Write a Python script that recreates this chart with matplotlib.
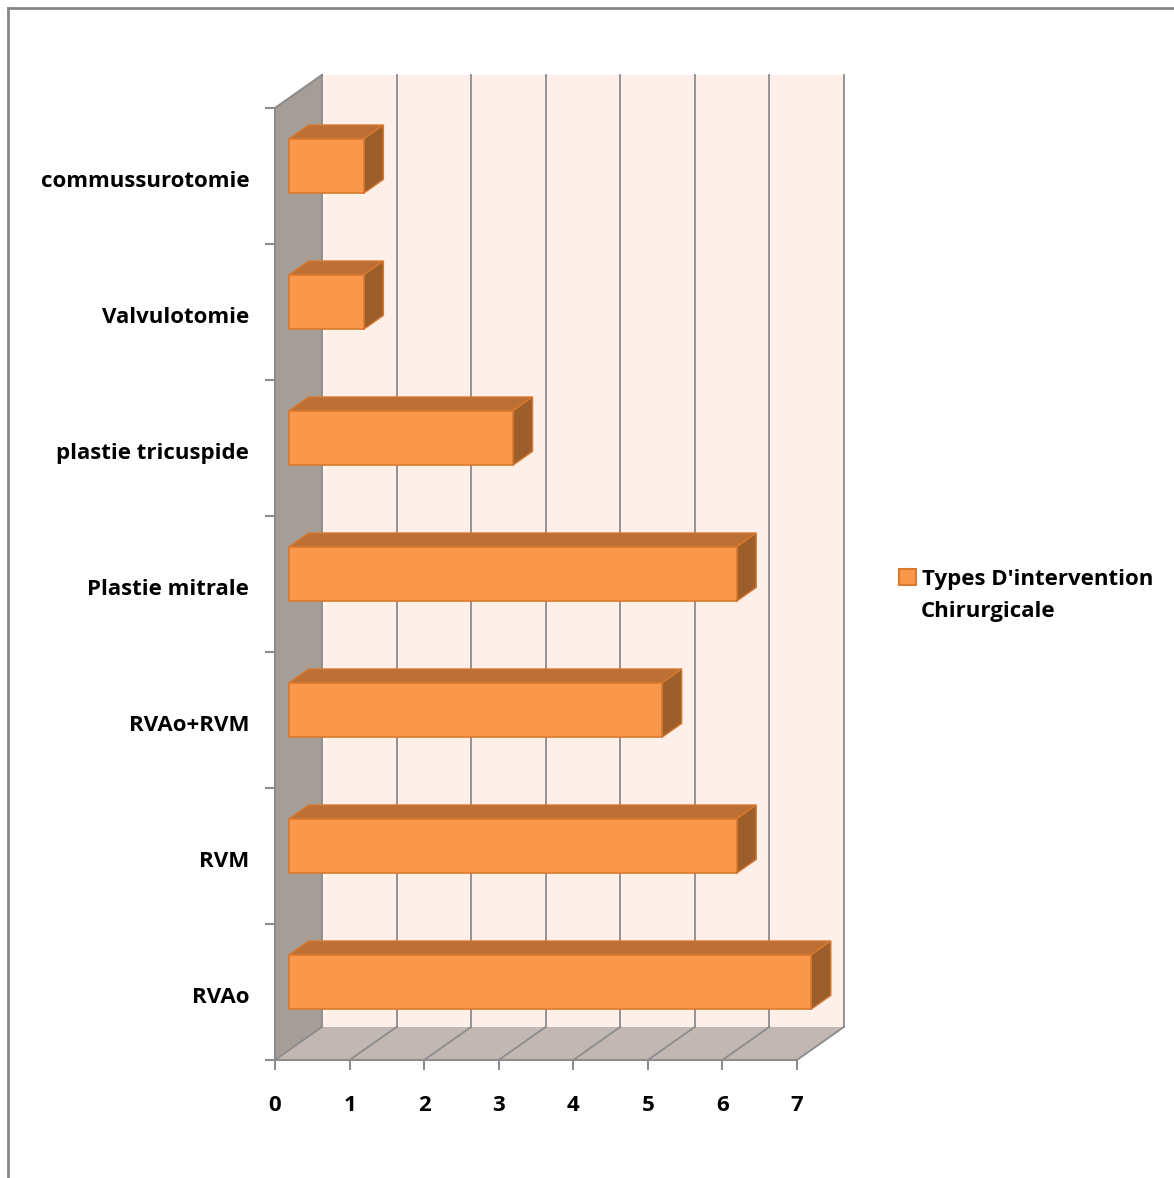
import matplotlib.pyplot as plt
from matplotlib.patches import Polygon, Patch
from matplotlib.lines import Line2D

# Categories listed bottom to top, as they are stacked on the y axis
categories = [
    "RVAo",
    "RVM",
    "RVAo+RVM",
    "Plastie mitrale",
    "plastie tricuspide",
    "Valvulotomie",
    "commussurotomie",
]
counts = [7, 6, 5, 6, 3, 1, 1]
x_ticks = [0, 1, 2, 3, 4, 5, 6, 7]
series_name = ["Types D'intervention", "Chirurgicale"]

# Colours of the pseudo 3D chart
FRONT = "#F9974A"
TOP = "#BD7035"
SIDE = "#9C5E2B"
EDGE = "#D9792E"
BACK_WALL = "#FEEFE8"
SIDE_WALL = "#A59D98"
FLOOR = "#C2B7B3"
GRID = "#8C8C8C"

# Oblique depth offset (data units) for the back of the plot box
OX, OY = 0.63, 0.243
# Bar front/back depth (fraction of box depth) and half height
D0, D1 = 0.30, 0.72
HALF = 0.2

FONT_SIZE = 16


def proj(v, c, d):
    """Project value, category position and depth onto the 2D axes."""
    return (v + d * OX, c + d * OY)


def draw_box(ax, n_cat, x_max):
    # floor
    ax.add_patch(Polygon([proj(0, 0, 0), proj(x_max, 0, 0), proj(x_max, 0, 1), proj(0, 0, 1)],
                         closed=True, facecolor=FLOOR, edgecolor="none", zorder=1))
    # left wall
    ax.add_patch(Polygon([proj(0, 0, 0), proj(0, 0, 1), proj(0, n_cat, 1), proj(0, n_cat, 0)],
                         closed=True, facecolor=SIDE_WALL, edgecolor="none", zorder=1))
    # back wall
    ax.add_patch(Polygon([proj(0, 0, 1), proj(x_max, 0, 1), proj(x_max, n_cat, 1), proj(0, n_cat, 1)],
                         closed=True, facecolor=BACK_WALL, edgecolor="none", zorder=1))
    # gridlines on back wall and floor
    for v in x_ticks:
        x0, y0 = proj(v, 0, 1)
        x1, y1 = proj(v, n_cat, 1)
        ax.add_line(Line2D([x0, x1], [y0, y1], color=GRID, lw=1.3, zorder=2))
        fx, fy = proj(v, 0, 0)
        ax.add_line(Line2D([fx, x0], [fy, y0], color=GRID, lw=1.3, zorder=2))
    # top edge of left wall
    a = proj(0, n_cat, 0)
    b = proj(0, n_cat, 1)
    ax.add_line(Line2D([a[0], b[0]], [a[1], b[1]], color=GRID, lw=1.5, zorder=2))


def draw_bar(ax, c, value):
    lo, hi = c + 0.5 - HALF, c + 0.5 + HALF
    top = [proj(0, hi, D0), proj(value, hi, D0), proj(value, hi, D1), proj(0, hi, D1)]
    side = [proj(value, lo, D0), proj(value, lo, D1), proj(value, hi, D1), proj(value, hi, D0)]
    front = [proj(0, lo, D0), proj(value, lo, D0), proj(value, hi, D0), proj(0, hi, D0)]
    ax.add_patch(Polygon(top, closed=True, facecolor=TOP, edgecolor=EDGE, lw=1, zorder=4))
    ax.add_patch(Polygon(side, closed=True, facecolor=SIDE, edgecolor=EDGE, lw=1, zorder=4))
    ax.add_patch(Polygon(front, closed=True, facecolor=FRONT, edgecolor=EDGE, lw=1.2, zorder=5))


plt.rcParams["font.family"] = ["Open Sans", "DejaVu Sans"]
fig = plt.figure(figsize=(11.74, 11.78), dpi=100)

n_cat = len(categories)
x_max = x_ticks[-1]
xlim = (0, 7.8)
ylim = (0, 7.4)
unit_x = 74.57 / 1174  # figure fraction per value unit
unit_y = 136.0 / 1178  # figure fraction per category
ax = fig.add_axes([275 / 1174, (1178 - 1060) / 1178,
                   (xlim[1] - xlim[0]) * unit_x, (ylim[1] - ylim[0]) * unit_y])
ax.set_xlim(*xlim)
ax.set_ylim(*ylim)
ax.patch.set_visible(False)

draw_box(ax, n_cat, x_max)
for i, v in enumerate(counts):
    draw_bar(ax, i, v)

# axes: front plane spines with Excel-like outward ticks
for s in ["top", "right"]:
    ax.spines[s].set_visible(False)
for s in ["left", "bottom"]:
    ax.spines[s].set_color(GRID)
    ax.spines[s].set_linewidth(1.5)
ax.spines["left"].set_bounds(0, n_cat)
ax.spines["bottom"].set_bounds(0, x_max)
ax.set_xticks(x_ticks)
ax.set_xticklabels([str(t) for t in x_ticks], fontsize=FONT_SIZE, fontweight="bold")
ax.tick_params(axis="x", direction="out", length=7, width=1.5, color=GRID, pad=18)
ax.set_yticks(range(n_cat + 1))
ax.set_yticklabels([])
ax.tick_params(axis="y", which="major", direction="out", length=7, width=1.5, color=GRID)
# category names sit a touch below the middle of each band
ax.set_yticks([i + 0.475 for i in range(n_cat)], minor=True)
ax.set_yticklabels(categories, minor=True, fontsize=FONT_SIZE, fontweight="bold")
ax.tick_params(axis="y", which="minor", length=0, pad=18.5)

# legend: square key next to the first line, second line wraps underneath
handle = Patch(facecolor=FRONT, edgecolor=EDGE, lw=1.5)
leg = fig.legend([handle], [series_name[0]], loc="center left",
                 bbox_to_anchor=(899 / 1174, 1 - 579 / 1178),
                 frameon=False, prop={"weight": "bold", "size": FONT_SIZE},
                 handlelength=0.75, handleheight=0.75, handletextpad=0.3,
                 borderpad=0, borderaxespad=0)
fig.text(921 / 1174, 1 - 612 / 1178, series_name[1], fontsize=FONT_SIZE,
         fontweight="bold", ha="left", va="center")

# outer chart border (only top and left edges show)
fig.add_artist(Line2D([8 / 1174, 1], [1 - 8 / 1178, 1 - 8 / 1178], color="#878787", lw=2))
fig.add_artist(Line2D([8 / 1174, 8 / 1174], [0, 1 - 8 / 1178], color="#878787", lw=2))

fig.savefig("out.png", dpi=100)
